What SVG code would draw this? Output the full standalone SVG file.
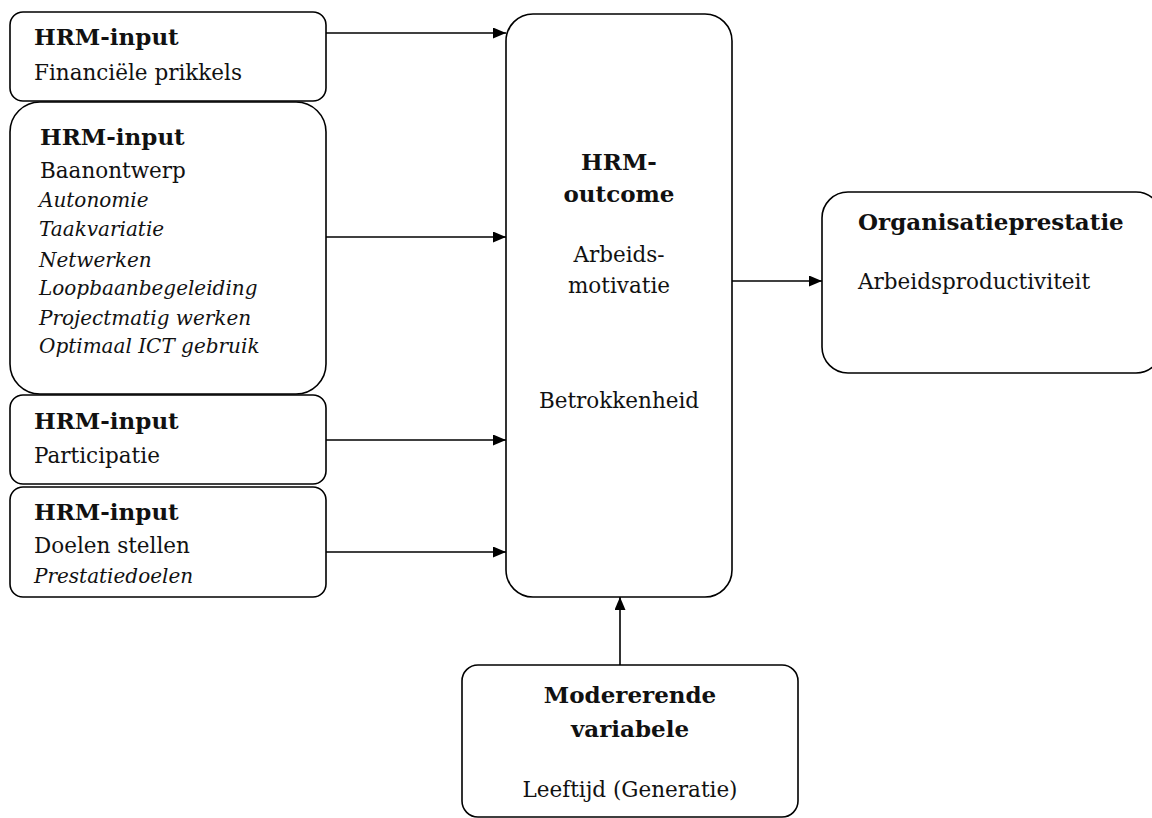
<svg xmlns="http://www.w3.org/2000/svg" width="1152" height="818" viewBox="0 0 1152 818">
  <style>
    .box { fill: #ffffff; stroke: #000000; stroke-width: 1.6; }
    .edge { fill: none; stroke: #000000; stroke-width: 1.6; }
    text { font-family: "DejaVu Serif", "Liberation Serif", serif; fill: #111111; }
    .b { font-weight: bold; font-size: 23px; }
    .r { font-size: 21.5px; }
    .i { font-style: italic; font-size: 20px; }
    .c { text-anchor: middle; }
  </style>
  <defs>
    <marker id="arrow" markerWidth="13" markerHeight="11" refX="13" refY="5.5" orient="auto" markerUnits="userSpaceOnUse">
      <path d="M0,0 L13,5.5 L0,11 Z" fill="#000000"/>
    </marker>
  </defs>
  <rect width="1152" height="818" fill="#ffffff"/>

  <g id="connectors">
    <line class="edge" x1="326" y1="33" x2="506" y2="33" marker-end="url(#arrow)"/>
    <line class="edge" x1="326" y1="237" x2="506" y2="237" marker-end="url(#arrow)"/>
    <line class="edge" x1="326" y1="440" x2="506" y2="440" marker-end="url(#arrow)"/>
    <line class="edge" x1="326" y1="552" x2="506" y2="552" marker-end="url(#arrow)"/>
    <line class="edge" x1="732" y1="281" x2="822" y2="281" marker-end="url(#arrow)"/>
    <line class="edge" x1="620" y1="665" x2="620" y2="597" marker-end="url(#arrow)"/>
  </g>

  <g id="input-financieel">
    <rect class="box" x="10" y="12" width="316" height="89" rx="13"/>
    <text class="b" x="34" y="45">HRM-input</text>
    <text class="r" x="34" y="80">Financiële prikkels</text>
  </g>

  <g id="input-baanontwerp">
    <rect class="box" x="10" y="102" width="316" height="292" rx="30"/>
    <text class="b" x="40" y="145">HRM-input</text>
    <text class="r" x="40" y="178">Baanontwerp</text>
    <text class="i" x="39" y="207">Autonomie</text>
    <text class="i" x="39" y="236">Taakvariatie</text>
    <text class="i" x="39" y="267">Netwerken</text>
    <text class="i" x="39" y="295">Loopbaanbegeleiding</text>
    <text class="i" x="39" y="325">Projectmatig werken</text>
    <text class="i" x="39" y="353">Optimaal ICT gebruik</text>
  </g>

  <g id="input-participatie">
    <rect class="box" x="10" y="395" width="316" height="89" rx="13"/>
    <text class="b" x="34" y="429">HRM-input</text>
    <text class="r" x="34" y="463">Participatie</text>
  </g>

  <g id="input-doelen">
    <rect class="box" x="10" y="487" width="316" height="110" rx="13"/>
    <text class="b" x="34" y="520">HRM-input</text>
    <text class="r" x="34" y="553">Doelen stellen</text>
    <text class="i" x="34" y="583">Prestatiedoelen</text>
  </g>

  <g id="outcome">
    <rect class="box" x="506" y="14" width="226" height="583" rx="27"/>
    <text class="b c" x="619" y="170">HRM-</text>
    <text class="b c" x="619" y="202">outcome</text>
    <text class="r c" x="619" y="262">Arbeids-</text>
    <text class="r c" x="619" y="293">motivatie</text>
    <text class="r c" x="619" y="408">Betrokkenheid</text>
  </g>

  <g id="organisatieprestatie">
    <rect class="box" x="822" y="192" width="340" height="181" rx="26"/>
    <text class="b" x="858" y="230">Organisatieprestatie</text>
    <text class="r" x="858" y="289">Arbeidsproductiviteit</text>
  </g>

  <g id="modererend">
    <rect class="box" x="462" y="665" width="336" height="152" rx="16"/>
    <text class="b c" x="630" y="703">Modererende</text>
    <text class="b c" x="630" y="737">variabele</text>
    <text class="r c" x="630" y="797">Leeftijd (Generatie)</text>
  </g>
</svg>
